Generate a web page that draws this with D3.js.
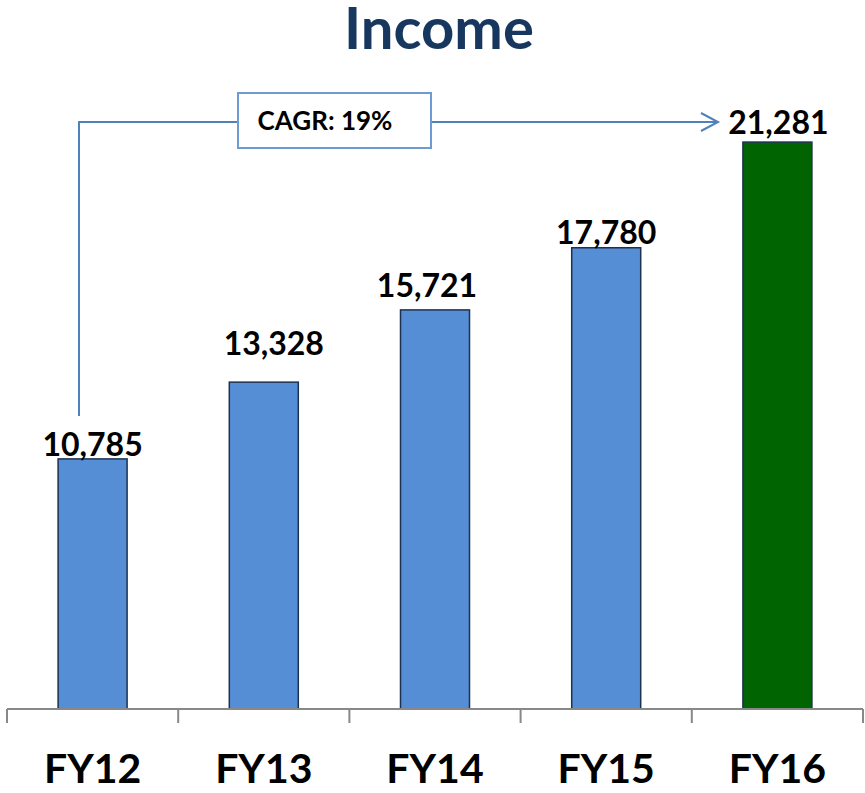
<!DOCTYPE html>
<html>
<head>
<meta charset="utf-8">
<script src="https://cdn.jsdelivr.net/npm/d3@7"></script>
<style>
  html, body { margin: 0; padding: 0; background: #fff; }
  svg { display: block; font-family: Lato, "Open Sans", sans-serif; }
</style>
</head>
<body>
<svg id="chart" width="865" height="793"></svg>
<script>
// ---- data ----
const categories = ["FY12", "FY13", "FY14", "FY15", "FY16"];
const incomeValues = [10785, 13328, 15721, 17780, 21281];
const valueLabels = ["10,785", "13,328", "15,721", "17,780", "21,281"];
const titleText = "Income";
const cagrText = "CAGR: 19%";

// label placement tweaks (layout, not data)
const labelGap = [3, 27, 13, 4, 8];
const labelDx = [0, 10, -8, 0, 1];

const svg = d3.select("#chart");

const x = d3.scaleBand()
  .domain(categories)
  .range([7, 863])
  .paddingInner(0.597)
  .paddingOuter(0.2985);

const y = d3.scaleLinear()
  .domain([2500, 24000])
  .range([709, 60]);

// title
svg.append("text")
  .attr("x", 439).attr("y", 49)
  .attr("text-anchor", "middle")
  .attr("font-size", 58).attr("font-weight", 700)
  .attr("fill", "#17375e")
  .text(titleText);

// bars
svg.selectAll("rect.bar")
  .data(categories)
  .join("rect")
  .attr("class", "bar")
  .attr("x", d => x(d))
  .attr("width", x.bandwidth())
  .attr("y", (d, i) => y(incomeValues[i]))
  .attr("height", (d, i) => y.range()[0] - y(incomeValues[i]))
  .attr("fill", (d, i) => i === categories.length - 1 ? "#006400" : "#558ed5")
  .attr("stroke", "#1c314f")
  .attr("stroke-width", 1.5);

// axis
const axisG = svg.append("g").attr("transform", `translate(0,${y.range()[0]})`);
axisG.append("line")
  .attr("x1", 7).attr("x2", 863)
  .attr("y1", 0).attr("y2", 0)
  .attr("stroke", "#888").attr("stroke-width", 2);
const tickXs = categories.map(c => x(c) + x.bandwidth() / 2 - x.step() / 2);
tickXs.push(x(categories[categories.length - 1]) + x.bandwidth() / 2 + x.step() / 2);
axisG.selectAll("line.tick")
  .data(tickXs)
  .join("line")
  .attr("class", "tick")
  .attr("x1", d => d).attr("x2", d => d)
  .attr("y1", 0).attr("y2", 14)
  .attr("stroke", "#888").attr("stroke-width", 2);

// category labels
svg.selectAll("text.cat")
  .data(categories)
  .join("text")
  .attr("class", "cat")
  .attr("x", d => x(d) + x.bandwidth() / 2)
  .attr("y", 783)
  .attr("text-anchor", "middle")
  .attr("font-size", 41).attr("font-weight", 700)
  .attr("fill", "#000")
  .text(d => d);

// value labels
svg.selectAll("text.val")
  .data(categories)
  .join("text")
  .attr("class", "val")
  .attr("x", (d, i) => x(d) + x.bandwidth() / 2 + labelDx[i])
  .attr("y", (d, i) => y(incomeValues[i]) - labelGap[i])
  .attr("text-anchor", "middle")
  .attr("font-size", 32).attr("font-weight", 700)
  .attr("fill", "#000")
  .text((d, i) => valueLabels[i]);

// CAGR connector
const lineColor = "#4f81bd";
const xStart = 79, lineY = 122, boxL = 238, boxR = 431, boxT = 93, boxB = 148;
const arrowTip = 718;
svg.append("path")
  .attr("d", `M${xStart},416 L${xStart},${lineY} L${boxL},${lineY}`)
  .attr("fill", "none").attr("stroke", lineColor).attr("stroke-width", 2);
svg.append("path")
  .attr("d", `M${boxR},${lineY} L${arrowTip},${lineY}`)
  .attr("fill", "none").attr("stroke", lineColor).attr("stroke-width", 2);
svg.append("path")
  .attr("d", `M${arrowTip - 17},${lineY - 9} L${arrowTip},${lineY} L${arrowTip - 17},${lineY + 9}`)
  .attr("fill", "none").attr("stroke", lineColor).attr("stroke-width", 2);
svg.append("rect")
  .attr("x", boxL).attr("y", boxT)
  .attr("width", boxR - boxL).attr("height", boxB - boxT)
  .attr("fill", "#fff").attr("stroke", "#6f9bd3").attr("stroke-width", 2);
svg.append("text")
  .attr("x", 325).attr("y", 130)
  .attr("text-anchor", "middle")
  .attr("font-size", 26).attr("font-weight", 700)
  .attr("fill", "#000")
  .text(cagrText);
</script>
</body>
</html>
